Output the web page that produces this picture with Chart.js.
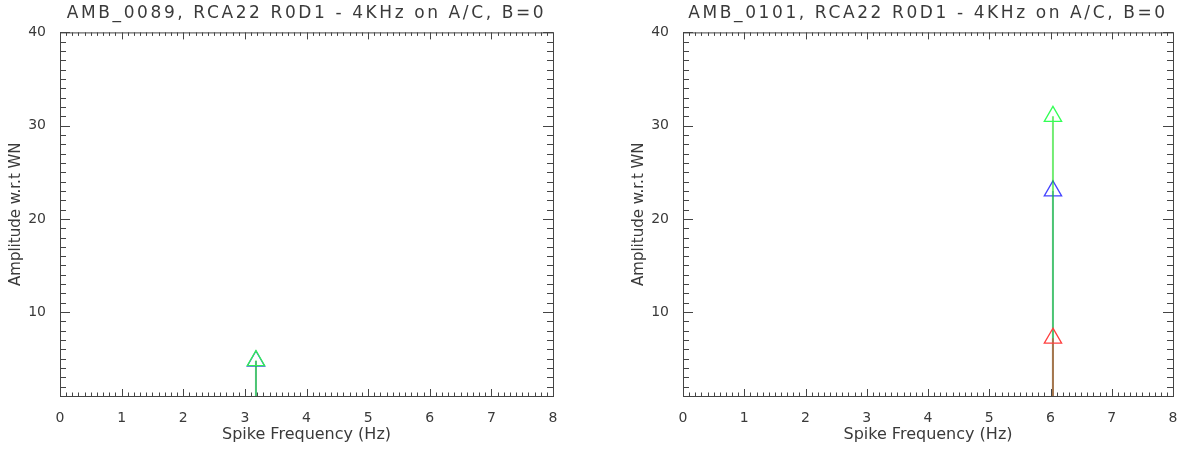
<!DOCTYPE html>
<html>
<head>
<meta charset="utf-8">
<script src="https://cdn.jsdelivr.net/npm/chart.js@4.4.1/dist/chart.umd.min.js"></script>
<style>
  body { margin: 0; background: #fff; }
  .wrap { position: absolute; top: 0; }
</style>
</head>
<body>
<div class="wrap" style="left:0"><canvas id="leftChart" width="592" height="449"></canvas></div>
<div class="wrap" style="left:592px"><canvas id="rightChart" width="593" height="449"></canvas></div>
<script>
// titles
const leftTitle = 'AMB_0089, RCA22 R0D1 - 4KHz on A/C, B=0';
const rightTitle = 'AMB_0101, RCA22 R0D1 - 4KHz on A/C, B=0';
const xTitle = 'Spike Frequency (Hz)';
const yTitle = 'Amplitude w.r.t WN';

// axis ticks
const xTickLabels = [0, 1, 2, 3, 4, 5, 6, 7, 8];
const yTickLabels = [10, 20, 30, 40];
const yMin = 1;

// spikes (frequency, amplitude per channel)
const leftFreq = 3.18;
const leftBlue = 4.75;
const leftGreen = 4.8;

const rightFreq = 6.04;
const rightRed = 7.2;
const rightBlue = 23.0;
const rightGreen = 31.0;

const txt = '#3a3a3a';
const axisCol = '#444';

// frame + inward ticks, IDL style
const framePlugin = {
  id: 'frame',
  afterDraw(chart) {
    const { ctx, chartArea: a, scales: { x, y } } = chart;
    ctx.save();
    ctx.strokeStyle = axisCol;
    ctx.lineWidth = 1;
    ctx.strokeRect(a.left + 0.5, a.top + 0.5, a.right - a.left, a.bottom - a.top);
    ctx.beginPath();
    for (let i = 0; i <= 80; i++) {
      const v = i / 10;
      const px = Math.round(x.getPixelForValue(v)) + 0.5;
      const len = i % 10 === 0 ? 7 : 3.5;
      ctx.moveTo(px, a.bottom); ctx.lineTo(px, a.bottom - len);
      ctx.moveTo(px, a.top); ctx.lineTo(px, a.top + len);
    }
    for (let v = 1; v <= 40; v++) {
      const py = Math.round(y.getPixelForValue(v)) + 0.5;
      const len = v % 10 === 0 ? 10 : 6;
      ctx.moveTo(a.left, py); ctx.lineTo(a.left + len, py);
      ctx.moveTo(a.right, py); ctx.lineTo(a.right - len, py);
    }
    ctx.stroke();
    ctx.restore();
  }
};

function spike(freq, amp, lineCol, markCol) {
  return {
    data: [{ x: freq, y: yMin }, { x: freq, y: amp }],
    showLine: true,
    borderColor: lineCol,
    borderWidth: 2,
    pointRadius: c => c.dataIndex === 1 ? 10 : 0,
    pointStyle: 'triangle',
    pointBorderColor: markCol,
    pointBackgroundColor: 'rgba(0,0,0,0)',
    pointBorderWidth: 1.3
  };
}

function makeChart(id, title, datasets, padLeft, padRight) {
  const chart = new Chart(document.getElementById(id), {
    type: 'scatter',
    data: { datasets },
    options: {
      responsive: false,
      animation: false,
      layout: { padding: { left: padLeft, right: padRight, top: 0, bottom: 0 } },
      plugins: {
        legend: { display: false },
        tooltip: { enabled: false },
        title: {
          display: true,
          text: title,
          fullSize: false,
          color: txt,
          font: { family: 'DejaVu Sans', size: 17, weight: 'normal' },
          padding: { top: 3, bottom: 9 }
        }
      },
      scales: {
        x: {
          type: 'linear',
          min: 0, max: 8,
          afterBuildTicks: s => { s.ticks = xTickLabels.map(v => ({ value: v })); },
          afterFit: s => { s.height = 53; },
          grid: { display: false },
          border: { display: false },
          ticks: { color: txt, padding: 6, font: { family: 'DejaVu Sans', size: 14 } },
          title: { display: true, text: xTitle, color: txt, padding: { top: 0, bottom: 5 },
                   font: { family: 'DejaVu Sans', size: 16 } }
        },
        y: {
          type: 'linear',
          min: yMin, max: 40,
          afterBuildTicks: s => { s.ticks = yTickLabels.map(v => ({ value: v })); },
          afterFit: s => { s.width = 60; },
          grid: { display: false },
          border: { display: false },
          ticks: { color: txt, padding: 6, font: { family: 'DejaVu Sans', size: 14 } },
          title: { display: true, text: yTitle, color: txt, padding: { top: 7, bottom: 0 },
                   font: { family: 'DejaVu Sans', size: 15 } }
        }
      }
    },
    plugins: [framePlugin]
  });
  // wider spacing for the title, like the original font
  const tb = chart.titleBlock;
  const orig = tb.draw.bind(tb);
  tb.draw = function () {
    chart.ctx.save();
    chart.ctx.letterSpacing = '2.6px';
    orig();
    chart.ctx.restore();
  };
  chart.draw();
  return chart;
}

makeChart('leftChart', leftTitle, [
  spike(leftFreq, leftGreen, 'rgba(0,220,0,0.55)', '#33ee55'),
  spike(leftFreq, leftBlue, 'rgba(40,40,255,0.4)', '#4444ff')
], 0, 39);

makeChart('rightChart', rightTitle, [
  spike(rightFreq, rightRed, 'rgba(255,40,40,0.5)', '#ff4040'),
  spike(rightFreq, rightGreen, 'rgba(0,220,0,0.55)', '#33ff55'),
  spike(rightFreq, rightBlue, 'rgba(40,40,255,0.4)', '#4444ff')
], 31, 12);
</script>
</body>
</html>
